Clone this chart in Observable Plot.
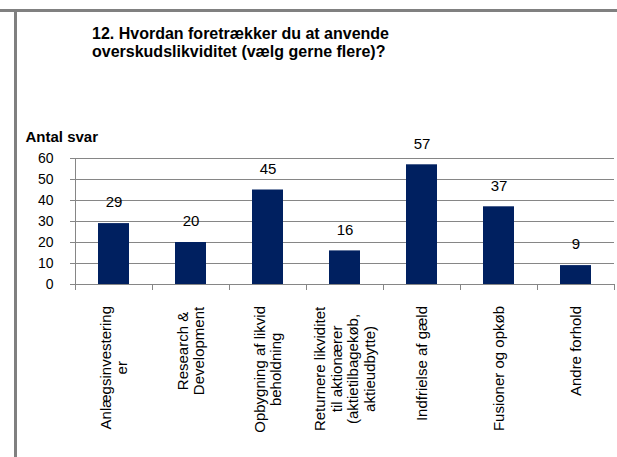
<!DOCTYPE html>
<html>
<head>
<meta charset="utf-8">
<script src="https://cdn.jsdelivr.net/npm/d3@7"></script>
<script src="https://cdn.jsdelivr.net/npm/@observablehq/plot@0.6"></script>
<style>
  html, body { margin: 0; padding: 0; background: #fff; }
  #wrap { position: relative; width: 617px; height: 457px; overflow: hidden; background: #fff;
          font-family: "Liberation Sans", Arial, sans-serif; }
  #topbar { position: absolute; left: 0; top: 9px; width: 617px; height: 3px; background: #808080; }
  #leftbar { position: absolute; left: 14px; top: 12px; width: 3px; height: 445px; background: #808080; }
  #title { position: absolute; left: 92px; top: 25px; font-weight: bold; font-size: 16px; line-height: 18px; color: #000; }
  #chart { position: absolute; left: 0; top: 120px; }
</style>
</head>
<body>
<div id="wrap">
  <div id="topbar"></div>
  <div id="leftbar"></div>
  <div id="title">12. Hvordan foretrækker du at anvende<br>overskudslikviditet (vælg gerne flere)?</div>
  <div id="chart"></div>
</div>
<script>
const categories = [
  "Anlægsinvesteringer",
  "Research & Development",
  "Opbygning af likvid beholdning",
  "Returnere likviditet til aktionærer (aktietilbagekøb, aktieudbytte)",
  "Indfrielse af gæld",
  "Fusioner og opkøb",
  "Andre forhold"
];
const tickLabels = [
  "Anlægsinvestering\ner",
  "Research &\nDevelopment",
  "Opbygning af likvid\nbeholdning",
  "Returnere likviditet\ntil aktionærer\n(aktietilbagekøb,\naktieudbytte)",
  "Indfrielse af gæld",
  "Fusioner og opkøb",
  "Andre forhold"
];
const values = [29, 20, 45, 16, 57, 37, 9];
const yTicks = [0, 10, 20, 30, 40, 50, 60];
const yLabel = "Antal svar";

const data = categories.map((c, i) => ({cat: c, label: tickLabels[i], value: values[i]}));

const W = 617, H = 337, mL = 75, mR = 3, mT = 38, mB = 173;
const half = (W - mL - mR) / categories.length / 2;
const gray = "#868686";
const font = "Liberation Sans, Arial, sans-serif";

const chart = Plot.plot({
  width: W,
  height: H,
  marginLeft: mL,
  marginRight: mR,
  marginTop: mT,
  marginBottom: mB,
  style: {fontFamily: font, background: "transparent", overflow: "visible", color: "#000"},
  x: {domain: categories, paddingInner: 0.6, paddingOuter: 0.3, axis: null},
  y: {domain: [0, 60], axis: null},
  marks: [
    Plot.ruleY(yTicks, {y: d => d, stroke: gray, strokeWidth: 1, insetLeft: -5}),
    Plot.ruleX([categories[0]], {x: d => d, dx: -half, stroke: gray, strokeWidth: 1}),
    Plot.ruleX(categories, {x: d => d, y1: 0, y2: 0, insetBottom: -6, dx: -half, stroke: gray}),
    Plot.ruleX([categories[categories.length - 1]], {x: d => d, y1: 0, y2: 0, insetBottom: -6, dx: half, stroke: gray}),
    Plot.axisY(yTicks, {tickSize: 0, tickPadding: 22, fontSize: 14, fill: "#000", label: null}),
    Plot.barY(data, {x: "cat", y: "value", fill: "#002060"}),
    Plot.text(data, {x: "cat", y: "value", text: d => String(d.value), dy: -21, fontSize: 15, fill: "#000"}),
    Plot.text(data, {x: "cat", text: "label", frameAnchor: "bottom", rotate: -90, textAnchor: "middle",
                     lineHeight: 1.13, fontSize: 15, fill: "#000", className: "xlab"}),
    Plot.text([yLabel], {frameAnchor: "top-left", dx: -50, dy: -27.5, textAnchor: "start",
                         fontWeight: "bold", fontSize: 15, fill: "#000"})
  ]
});
document.getElementById("chart").appendChild(chart);

// place each rotated label block: centred on its band, top just below the axis
const labelTop = 186;
const xs = chart.scale("x");
const svgRect = chart.getBoundingClientRect();
const flat = tickLabels.map(s => s.replace(/\n/g, ""));
chart.querySelectorAll("text").forEach(t => {
  const idx = flat.indexOf(t.textContent);
  if (idx < 0) return;
  const r = t.getBoundingClientRect();
  const curTop = r.top - svgRect.top;
  const curCx = r.left + r.width / 2 - svgRect.left;
  const want = xs.apply(categories[idx]) + xs.bandwidth / 2;
  const old = t.getAttribute("transform") || "";
  t.setAttribute("transform", `translate(${want - curCx},${labelTop - curTop}) ${old}`);
});
</script>
</body>
</html>
